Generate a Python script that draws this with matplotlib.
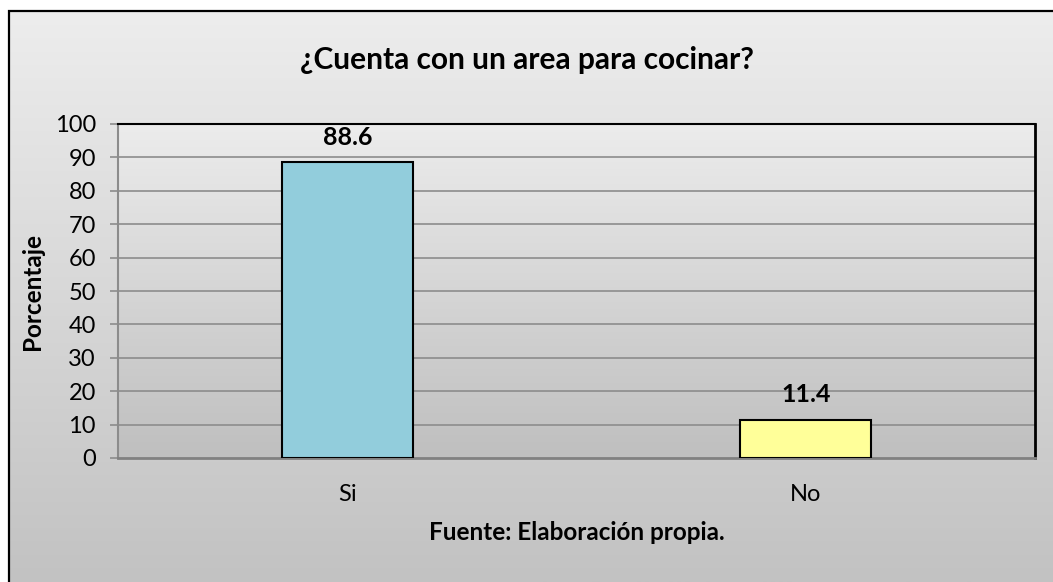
import numpy as np
import matplotlib.pyplot as plt
from matplotlib.colors import LinearSegmentedColormap
from matplotlib.patches import Rectangle

# Datos
categorias = ["Si", "No"]
porcentajes = [88.6, 11.4]
colores = ["#92cddc", "#ffff99"]
yticks = list(range(0, 101, 10))

plt.rcParams['font.family'] = ['Lato', 'DejaVu Sans']

fig = plt.figure(figsize=(10.53, 5.82), dpi=100, facecolor='white')

# Fondo degradado del gráfico (con borde)
gris = LinearSegmentedColormap.from_list('gris', ['#c2c2c2', '#ededed'])
grad = np.linspace(0, 1, 256).reshape(-1, 1)
bg = fig.add_axes([0, 0, 1, 1], zorder=-2)
bg.imshow(grad, extent=[9/1053, 1, 0, 1 - 11/582], aspect='auto', cmap=gris,
          origin='lower')
bg.set_xlim(0, 1)
bg.set_ylim(0, 1)
bg.axis('off')
bg.add_patch(Rectangle((9/1053, -0.01), 1.0, 1 - 11/582 + 0.01, fill=False,
                       edgecolor='black', linewidth=1.6))

# Área de trazado
ax = fig.add_axes([118/1053, (582-458)/582, 917/1053, 334/582])
x = np.arange(len(categorias))
ax.imshow(grad, extent=[-0.5, 1.5, 0, 100], aspect='auto',
          cmap=LinearSegmentedColormap.from_list('g2', ['#bfbfbf', '#ececec']),
          origin='lower', zorder=0)
for y in yticks[1:-1]:
    ax.axhline(y, color='#8c8c8c', linewidth=1.2, zorder=1)

bars = ax.bar(x, porcentajes, width=0.286, color=colores, edgecolor='black',
              linewidth=1.5, zorder=3)
for xi, v in zip(x, porcentajes):
    ax.text(xi, v + 7.5, f"{v:.1f}", ha='center', va='center',
            fontsize=18, fontweight='bold', zorder=4)

ax.set_xlim(-0.5, 1.5)
ax.set_ylim(0, 100)
ax.set_yticks(yticks)
ax.set_xticks(x)
ax.set_xticklabels(categorias)
ax.tick_params(axis='y', labelsize=17, length=6, width=1.2, color='#8c8c8c', pad=10)
ax.tick_params(axis='x', labelsize=17, length=0, pad=19)
ax.spines['left'].set_color('#8c8c8c')
ax.spines['left'].set_linewidth(1.5)
ax.spines['bottom'].set_color('#808080')
ax.spines['bottom'].set_linewidth(2)
ax.spines['top'].set_linewidth(1.5)
ax.spines['right'].set_linewidth(2)

ax.set_ylabel("Porcentaje", fontsize=17.5, fontweight='bold')
ax.yaxis.set_label_coords(-(118 - 32) / 917, 0.5)
ax.set_xlabel("Fuente: Elaboración propia.", fontsize=17.5, fontweight='bold')
ax.xaxis.set_label_coords(0.5, -(532 - 458) / 334)
ax.xaxis.label.set_va('center')
ax.yaxis.label.set_va('center')

fig.text(0.5, 1 - 60/582, "¿Cuenta con un area para cocinar?", ha='center',
         va='center', fontsize=21.5, fontweight='bold')

fig.savefig("out.png", dpi=100)
